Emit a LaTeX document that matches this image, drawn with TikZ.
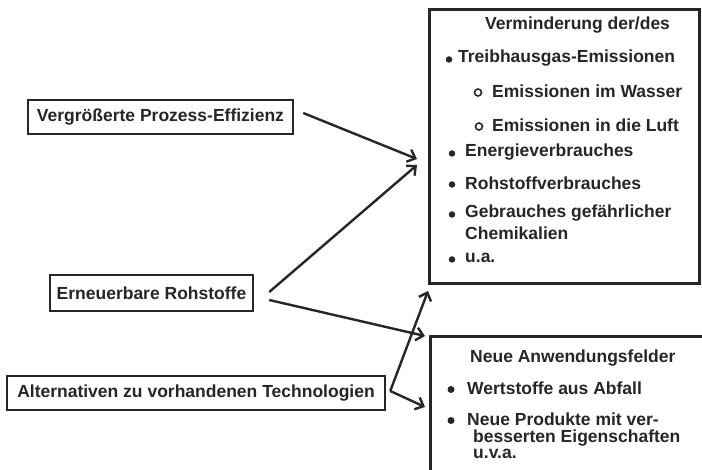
\documentclass[tikz,border=0pt]{standalone}
\usepackage{fontspec}
\setmainfont{Liberation Sans}
\usetikzlibrary{arrows.meta}

\begin{document}
\begin{tikzpicture}[x=1pt, y=-1pt,
  every node/.style={font=\fontsize{17.5}{20}\selectfont\bfseries, text=black!85},
  box/.style={draw=black!85, line width=2.5pt, inner sep=0pt},
  bigbox/.style={draw=black!85, line width=3pt, inner sep=0pt},
  txt/.style={anchor=west, inner sep=0pt},
  dot/.style={circle, fill=black!85, inner sep=0pt, minimum size=6.5pt},
  ring/.style={circle, draw=black!85, line width=1.6pt, inner sep=0pt, minimum size=7pt},
  pfeil/.style={draw=black!85, line width=2.4pt, -{Straight Barb[length=7pt, width=13pt]}}]
  \clip (0,0) rectangle (702,470);

  % linke Seite
  \node[box, minimum width=265, minimum height=34] (eff) at (160.5,117) {Vergrößerte Prozess-Effizienz};
  \node[box, minimum width=203, minimum height=36] (roh) at (151.5,293) {Erneuerbare Rohstoffe};
  \node[box, minimum width=378, minimum height=34] (alt) at (196,393) {Alternativen zu vorhandenen Technologien};

  % rechte Seite
  \node[bigbox, minimum width=270, minimum height=274] (verm) at (564,147) {};
  \node[bigbox, minimum width=300, minimum height=166] (neu) at (580,420) {};

  \node[txt] (v0) at (485,25) {Verminderung der/des};
  \node[dot] (d1) at (449,59.5) {};  \node[txt] (v1) at (458,58) {Treibhausgas-Emissionen};
  \node[ring] (r2) at (478,92.5) {}; \node[txt] (v2) at (492,91) {Emissionen im Wasser};
  \node[ring] (r3) at (479,126.5) {}; \node[txt] (v3) at (492,125) {Emissionen in die Luft};
  \node[dot] (d4) at (452,153.5) {}; \node[txt] (v4) at (465,152) {Energieverbrauches};
  \node[dot] (d5) at (452,184.5) {}; \node[txt] (v5) at (465,183) {Rohstoffverbrauches};
  \node[dot] (d6) at (452,214.5) {}; \node[txt] (v6) at (465,213) {Gebrauches gefährlicher};
  \node[txt] (v7) at (465,233) {Chemikalien};
  \node[dot] (d8) at (452,259.5) {}; \node[txt] (v8) at (465,258) {u.a.};

  \node[txt] (n0) at (470,358) {Neue Anwendungsfelder};
  \node[dot, minimum size=7pt] (e1) at (451,389.5) {}; \node[txt] (n1) at (467,388) {Wertstoffe aus Abfall};
  \node[dot, minimum size=7pt] (e2) at (451,420.5) {}; \node[txt] (n2) at (467,419) {Neue Produkte mit ver-};
  \node[txt] (n3) at (473,438) {besserten Eigenschaften};
  \node[txt] (n4) at (473,454) {u.v.a.};

  % Pfeilenden
  \coordinate (z1) at (417,159);
  \coordinate (z2) at (417,165);
  \coordinate (z3) at (425,336);
  \coordinate (z4) at (428,291);
  \coordinate (z5) at (425,407);

  \draw[pfeil] ([shift={(9,-4)}]eff.east) -- (z1);
  \draw[pfeil] ([shift={(15,-1)}]roh.east) -- (z2);
  \draw[pfeil] ([shift={(15,7)}]roh.east) -- (z3);
  \draw[pfeil] ([shift={(4,-2)}]alt.east) -- (z4);
  \draw[pfeil] ([shift={(4,-2)}]alt.east) -- (z5);
\end{tikzpicture}
\end{document}
